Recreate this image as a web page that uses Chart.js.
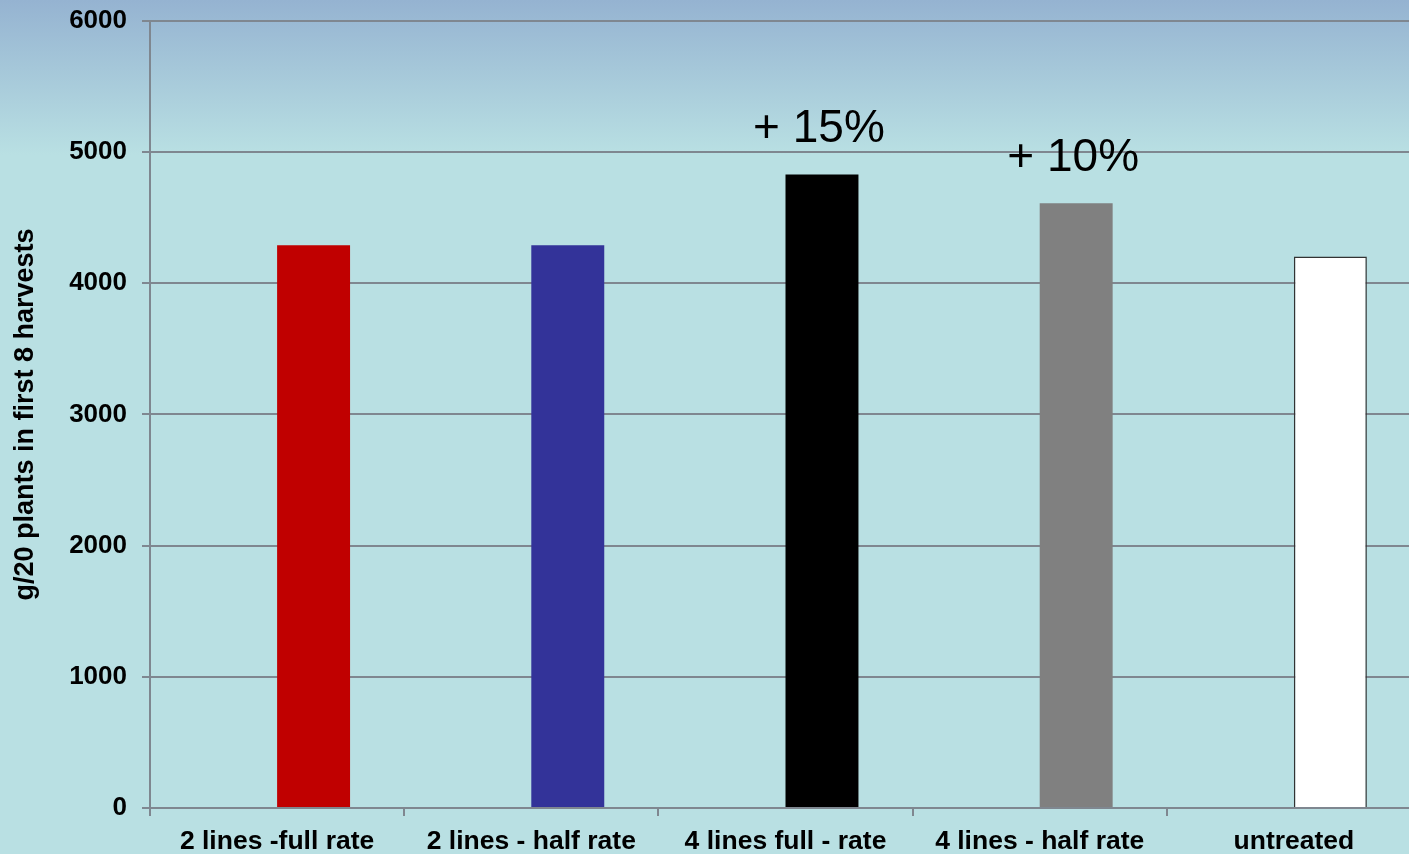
<!DOCTYPE html>
<html>
<head>
<meta charset="utf-8">
<script src="https://cdn.jsdelivr.net/npm/chart.js@4/dist/chart.umd.min.js"></script>
<style>
html,body{margin:0;padding:0;overflow:hidden;background:#b9e0e3;}
#wrap{width:1430px;height:854px;}
</style>
</head>
<body>
<div id="wrap"><canvas id="c" width="1430" height="854"></canvas></div>
<script>
const categories = ["2 lines -full rate", "2 lines - half rate", "4 lines full - rate", "4 lines - half rate", "untreated"];
const yieldValues = [4290, 4290, 4830, 4610, 4205];
const emptySlot = [null, null, null, null, null];
const barColors = ["#c00000", "#333399", "#000000", "#808080", "#ffffff"];
const barBorders = ["#c00000", "#333399", "#000000", "#808080", "#333333"];
const barBorderWidths = [0, 0, 0, 0, 1.5];
const increaseLabels = ["", "", "+ 15%", "+ 10%", ""];
const yTicks = [0, 1000, 2000, 3000, 4000, 5000, 6000];
const yTitle = "g/20 plants in first 8 harvests";

const bgPlugin = {
  id: 'bg',
  beforeDraw(chart) {
    const ctx = chart.ctx;
    const g = ctx.createLinearGradient(0, 0, 0, 155);
    g.addColorStop(0, '#95b3d1');
    g.addColorStop(1, '#b9e0e3');
    ctx.save();
    ctx.fillStyle = '#b9e0e3';
    ctx.fillRect(0, 0, chart.width, chart.height);
    ctx.fillStyle = g;
    ctx.fillRect(0, 0, chart.width, 155);
    ctx.restore();
  }
};

const labelPlugin = {
  id: 'inc',
  afterDatasetsDraw(chart) {
    const ctx = chart.ctx;
    const meta = chart.getDatasetMeta(1);
    ctx.save();
    ctx.font = '46px "Liberation Sans", Arial, sans-serif';
    ctx.fillStyle = '#000';
    ctx.textAlign = 'center';
    ctx.textBaseline = 'alphabetic';
    meta.data.forEach((bar, i) => {
      const t = increaseLabels[i];
      if (!t) return;
      ctx.fillText(t, bar.x - 3, bar.y - 32);
    });
    ctx.restore();
  }
};

const FONT = '"Liberation Sans", Arial, sans-serif';

new Chart(document.getElementById('c'), {
  type: 'bar',
  data: {
    labels: categories,
    datasets: [
      { data: emptySlot, backgroundColor: 'transparent' },
      { data: yieldValues, backgroundColor: barColors, borderColor: barBorders, borderWidth: barBorderWidths }
    ]
  },
  options: {
    responsive: false,
    animation: false,
    devicePixelRatio: 1,
    layout: { padding: { top: 4, right: 9, bottom: 0, left: 0 } },
    categoryPercentage: 0.574,
    barPercentage: 1,
    plugins: { legend: { display: false }, tooltip: { enabled: false }, title: { display: false } },
    scales: {
      x: {
        grid: { drawOnChartArea: false, drawTicks: true, tickLength: 8, color: '#7f8790', lineWidth: 2, offset: true },
        border: { color: '#7f8790', width: 2 },
        ticks: { color: '#000', font: { family: FONT, size: 26.5, weight: 'bold' }, padding: 10, maxRotation: 0, autoSkip: false },
        afterFit(s) { s.height = 46; }
      },
      y: {
        min: 0, max: 6000,
        afterBuildTicks(s) { s.ticks = yTicks.map(v => ({ value: v })); },
        grid: { color: '#7f8790', lineWidth: 2, tickLength: 8 },
        border: { color: '#7f8790', width: 2 },
        ticks: { color: '#000', font: { family: FONT, size: 26, weight: 'bold', lineHeight: 0.46 }, padding: 15, callback: v => String(v) },
        title: { display: true, text: yTitle, color: '#000', font: { family: FONT, size: 27, weight: 'bold' }, padding: { top: 9, bottom: 0 } },
        afterFit(s) { s.width = 150; }
      }
    }
  },
  plugins: [bgPlugin, labelPlugin]
});
</script>
</body>
</html>
